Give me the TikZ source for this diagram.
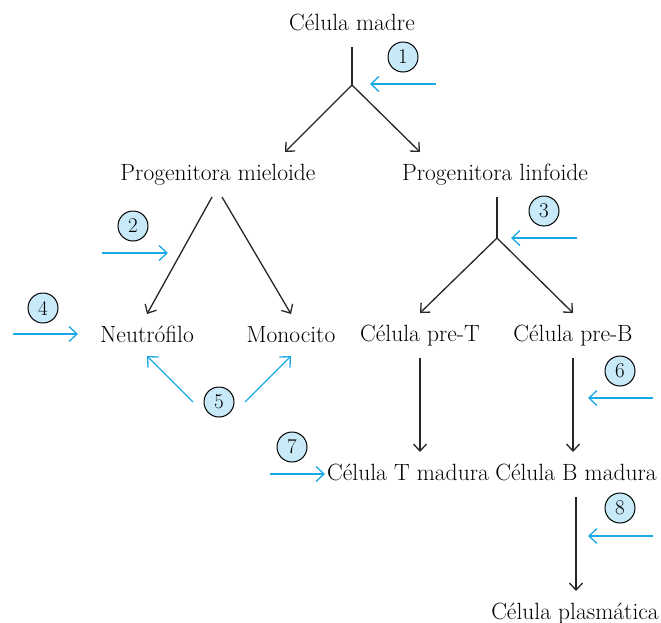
\documentclass[tikz,border=0pt]{standalone}
\usetikzlibrary{arrows.meta}
\definecolor{signalblue}{RGB}{27,168,230}
\definecolor{badgeblue}{RGB}{200,233,248}
\begin{document}
\begin{tikzpicture}[x=1pt, y=-1pt,
    cell/.style={font=\fontsize{23.5}{28}\selectfont, anchor=base, text height=17pt, text depth=6pt,
        inner ysep=5pt, outer ysep=6pt, inner xsep=2pt},
    badge/.style={circle, draw=black, fill=badgeblue, line width=1pt, minimum size=30pt,
        inner sep=0pt, font=\fontsize{21}{24}\selectfont},
    trunk/.style={draw=black!85, line width=1.3pt},
    normal/.style={trunk, -{Straight Barb[length=7pt,width=13pt]}},
    signal/.style={draw=signalblue, line width=1.3pt, -{Straight Barb[length=8pt,width=15pt]}}
]
\useasboundingbox (0,0) rectangle (661,622);

% -------- Celulas --------
\node[cell] (cm) at (352,30) {Célula madre};
\node[cell] (pm) at (218,180) {Progenitora mieloide};
\node[cell] (pl) at (495,180) {Progenitora linfoide};
\node[cell] (neu) at (147,342) {Neutrófilo};
\node[cell] (mono) at (291,342) {Monocito};
\node[cell] (preT) at (420,341) {Célula pre-T};
\node[cell] (preB) at (573,341) {Célula pre-B};
\node[cell] (tmad) at (408,480) {Célula T madura};
\node[cell] (bmad) at (576,480) {Célula B madura};
\node[cell] (plas) at (575,619) {Célula plasmática};

% puntos de bifurcacion
\coordinate (j1) at (352,85);
\coordinate (j2) at (497,238);

% -------- Linaje (negro) --------
\draw[trunk] (cm.south) -- (j1);
\draw[normal] (j1) -- ([xshift=67pt]pm.north);
\draw[normal] (j1) -- ([xshift=-75pt]pl.north);

\draw[normal] ([xshift=-6pt]pm.south) -- (neu.north);
\draw[normal] ([xshift=4pt]pm.south) -- (mono.north);

\draw[trunk] ([xshift=2pt]pl.south) -- (j2);
\draw[normal] (j2) -- (preT.north);
\draw[normal] (j2) -- (preB.north);

\draw[normal] (preT.south) -- (preT.south |- tmad.north);
\draw[normal] (preB.south) -- (preB.south |- bmad.north);
\draw[normal] (bmad.south) -- (bmad.south |- plas.north);

% -------- Numeros --------
\node[badge] (n1) at (403,57) {1};
\node[badge] (n2) at (133,226) {2};
\node[badge] (n3) at (544,211) {3};
\node[badge] (n4) at (43,308) {4};
\node[badge] (n5) at (219,402) {5};
\node[badge] (n6) at (620,371) {6};
\node[badge] (n7) at (292,447) {7};
\node[badge] (n8) at (620,508) {8};

% -------- Flechas azules --------
\coordinate (s1) at (436,84);  \coordinate (e1) at (370,84);
\coordinate (s2) at (102,253); \coordinate (e2) at (168,253);
\coordinate (s3) at (577,238); \coordinate (e3) at (511,238);
\coordinate (s4) at (13,334);  \coordinate (e4) at (78,334);
\coordinate (s6) at (653,398); \coordinate (e6) at (588,398);
\coordinate (s7) at (270,474); \coordinate (e7) at (325,474);
\coordinate (s8) at (653,536); \coordinate (e8) at (588,536);

\draw[signal] (s1) -- (e1);
\draw[signal] (s2) -- (e2);
\draw[signal] (s3) -- (e3);
\draw[signal] (s4) -- (e4);
\draw[signal] ([xshift=-26pt]n5.center) -- ([yshift=3pt]neu.south);
\draw[signal] ([xshift=26pt]n5.center) -- ([yshift=3pt]mono.south);
\draw[signal] (s6) -- (e6);
\draw[signal] (s7) -- (e7);
\draw[signal] (s8) -- (e8);
\end{tikzpicture}
\end{document}
